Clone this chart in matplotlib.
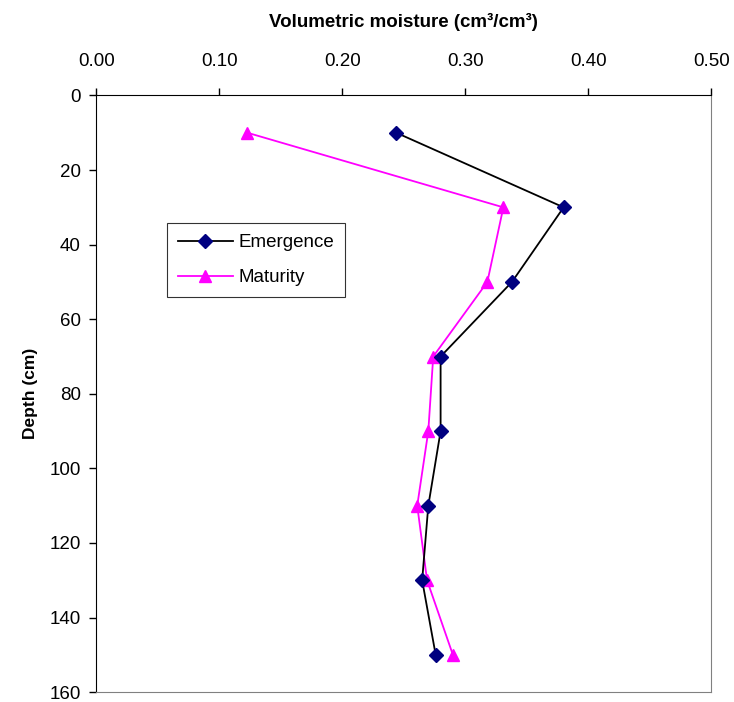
import matplotlib
matplotlib.use("Agg")
import matplotlib.pyplot as plt

plt.rcParams["font.family"] = ["Liberation Sans", "DejaVu Sans"]

# Profondità (cm) e umidità volumetrica
depth = [10, 30, 50, 70, 90, 110, 130, 150]
emergence = [0.244, 0.380, 0.338, 0.280, 0.280, 0.270, 0.265, 0.276]
maturity = [0.123, 0.331, 0.318, 0.274, 0.270, 0.261, 0.269, 0.290]

xticks = [0.0, 0.1, 0.2, 0.3, 0.4, 0.5]
yticks = [0, 20, 40, 60, 80, 100, 120, 140, 160]

fig = plt.figure(figsize=(7.34, 7.02), dpi=100)
ax = fig.add_axes([0.131, 0.014, 0.838, 0.850])

ax.plot(emergence, depth, color="black", lw=1.3, marker="D", ms=7,
        mfc="#000080", mec="#000080", label="Emergence", zorder=3)
ax.plot(maturity, depth, color="#ff00ff", lw=1.3, marker="^", ms=9,
        mfc="#ff00ff", mec="#ff00ff", label="Maturity", zorder=2)

ax.set_xlim(0, 0.5)
ax.set_ylim(160, 0)
ax.set_xticks(xticks)
ax.set_xticklabels([f"{v:.2f}" for v in xticks])
ax.set_yticks(yticks)
ax.xaxis.tick_top()
ax.xaxis.set_label_position("top")
ax.tick_params(axis="both", direction="out", length=5, labelsize=13.5, width=1)
ax.tick_params(axis="x", pad=13)
ax.tick_params(axis="y", pad=6)

ax.set_xlabel("Volumetric moisture (cm\u00b3/cm\u00b3)", fontsize=13.5,
              fontweight="bold", labelpad=19)
ax.set_ylabel("Depth (cm)", fontsize=12.5, fontweight="bold", labelpad=8)

ax.spines["left"].set_color("black")
ax.spines["top"].set_color("black")
ax.spines["right"].set_color("#808080")
ax.spines["bottom"].set_color("#808080")

leg = ax.legend(loc="upper left", bbox_to_anchor=(0.106, 0.796), fontsize=13.5,
                frameon=True, fancybox=False, edgecolor="black",
                handlelength=2.9, handletextpad=0.3, borderpad=0.6,
                borderaxespad=0.3, labelspacing=0.95)
leg.get_frame().set_linewidth(0.8)

fig.savefig("out.png", dpi=100)
